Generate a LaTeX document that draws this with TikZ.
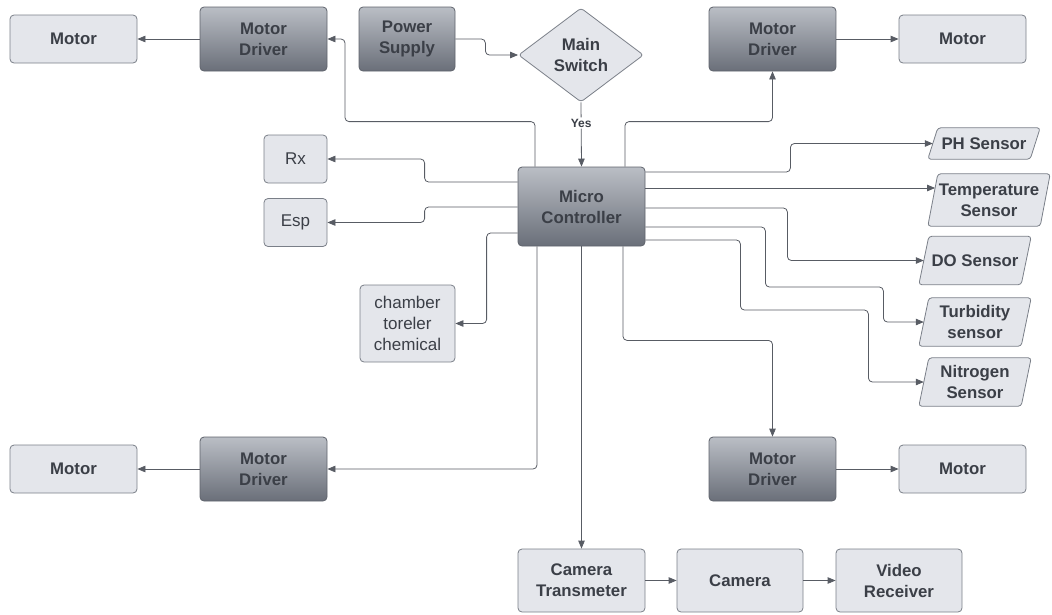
\documentclass[tikz,border=0pt]{standalone}
\usepackage{fontspec}
\setmainfont{Liberation Sans}
\usetikzlibrary{shapes.geometric,arrows.meta,backgrounds}
\definecolor{lightfill}{HTML}{E4E6EB}
\definecolor{lightline}{HTML}{7A7F88}
\definecolor{darktop}{HTML}{BABEC5}
\definecolor{darkbot}{HTML}{6A6F79}
\definecolor{darkline}{HTML}{5F636C}
\definecolor{txt}{HTML}{3B3F47}
\definecolor{wire}{HTML}{585C64}
\newcommand{\slantbox}[2]{%
  \begin{scope}[on background layer]
    \filldraw[draw=lightline, fill=lightfill, line width=0.8pt, rounded corners=3pt]
      ([xshift=#2]#1.north west) -- ([xshift=#2]#1.north east) --
      ([xshift=-#2]#1.south east) -- ([xshift=-#2]#1.south west) -- cycle;
  \end{scope}}
\begin{document}
\begin{tikzpicture}[x=1pt,y=-1pt,
  base/.style={text=txt, align=center, inner sep=0pt,
    font=\fontsize{16.8}{21}\selectfont\bfseries},
  lightbox/.style={base, draw=lightline, fill=lightfill, rounded corners=4pt,
    line width=0.8pt, minimum width=127pt, minimum height=48pt},
  smallbox/.style={lightbox, font=\fontsize{17}{21}\selectfont, minimum width=63pt},
  darkbox/.style={base, draw=darkline, top color=darktop, bottom color=darkbot,
    rounded corners=4pt, line width=0.8pt, minimum width=127pt, minimum height=64pt},
  sensor/.style={base, minimum width=102pt, minimum height=48pt},
  decision/.style={base, diamond, draw=lightline, fill=lightfill, line width=0.8pt,
    rounded corners=3pt, minimum width=125pt, minimum height=94pt},
  arr/.style={draw=wire, line width=0.8pt, rounded corners=4pt,
    -{Triangle[length=8pt,width=6.5pt]}}
]
\useasboundingbox (0,0) rectangle (1052,614);

% top row
\node[lightbox] (mtl) at (73.5,39) {Motor};
\node[darkbox] (mdtl) at (263.5,39) {Motor\\Driver};
\node[darkbox, minimum width=96pt] (ps) at (407,39) {Power\\Supply};
\node[decision] (sw) at (581,55) {Main\\Switch};
\node[darkbox] (mdtr) at (772.5,39) {Motor\\Driver};
\node[lightbox] (mtr) at (962.5,39) {Motor};

% controller
\node[darkbox, minimum height=79pt] (mc) at (581.5,206.5) {Micro\\Controller};

% left side
\node[smallbox] (rx) at (295.5,159) {Rx};
\node[smallbox] (esp) at (295.5,222.5) {Esp};
\node[smallbox, minimum width=95pt, minimum height=77pt] (cham) at (407.5,323.5) {chamber\\toreler\\chemical};

% sensors
\node[sensor, minimum height=31pt] (ph) at (984,143.5) {PH Sensor};
\slantbox{ph}{5pt}
\node[sensor, minimum width=112pt, minimum height=52pt] (temp) at (989,200) {Temperature\\Sensor};
\slantbox{temp}{5pt}
\node[sensor] (do) at (975,260.5) {DO Sensor};
\slantbox{do}{5pt}
\node[sensor] (turb) at (975,322) {Turbidity\\sensor};
\slantbox{turb}{5pt}
\node[sensor] (nit) at (975,382) {Nitrogen\\Sensor};
\slantbox{nit}{5pt}

% bottom
\node[lightbox] (mbl) at (73.5,469) {Motor};
\node[darkbox] (mdbl) at (263.5,469) {Motor\\Driver};
\node[darkbox] (mdbr) at (772.5,469) {Motor\\Driver};
\node[lightbox] (mbr) at (962.5,469) {Motor};
\node[lightbox, minimum height=63pt] (ct) at (581.5,580.5) {Camera\\Transmeter};
\node[lightbox, minimum width=126pt, minimum height=63pt] (cam) at (740,580.5) {Camera};
\node[lightbox, minimum width=126pt, minimum height=63pt] (vr) at (899,580.5) {Video\\Receiver};

% connectors
\draw[arr] (mdtl.west) -- (mtl.east);
\draw[arr] (mdtr.east) -- (mtr.west);
\draw[arr] (ps.east) -- ++(30,0) |- (sw.west);
\draw[arr] (sw.south) -- node[fill=white, inner sep=1.5pt, text=txt,
  font=\fontsize{12}{14}\selectfont\bfseries, pos=0.32] {Yes} (mc.north);
\draw[arr] ([xshift=-46.5pt]mc.north) -- ++(0,-45) -- ++(-190,0) |- (mdtl.east);
\draw[arr] ([xshift=43.5pt]mc.north) -- ++(0,-45) -| (mdtr.south);

\draw[arr] ([yshift=24.5pt]mc.west) -- ++(-93,0) |- (rx.east);
\draw[arr] ([yshift=-0.5pt]mc.west) -- ++(-93,0) |- (esp.east);
\draw[arr] ([yshift=-26.5pt]mc.west) -- ++(-31,0) |- (cham.east);

\draw[arr] ([yshift=34.5pt]mc.east) -- ++(145,0) |- (ph.west);
\draw[arr] ([yshift=18.5pt]mc.east) -- ([xshift=2.3pt,yshift=12pt]temp.west);
\draw[arr] ([yshift=-1.5pt]mc.east) -- ++(142,0) |- (do.west);
\draw[arr] ([yshift=-20.5pt]mc.east) -- ++(120,0) -- ++(0,60) -- ++(118,0) |- (turb.west);
\draw[arr] ([yshift=-33.5pt]mc.east) -- ++(95,0) -- ++(0,70) -- ++(128,0) |- (nit.west);

\draw[arr] ([xshift=-44.5pt]mc.south) |- (mdbl.east);
\draw[arr] ([xshift=41.5pt]mc.south) -- ++(0,94) -| (mdbr.north);
\draw[arr] (mc.south) -- (ct.north);
\draw[arr] (mdbl.west) -- (mbl.east);
\draw[arr] (mdbr.east) -- (mbr.west);
\draw[arr] (ct.east) -- (cam.west);
\draw[arr] (cam.east) -- (vr.west);
\end{tikzpicture}
\end{document}
